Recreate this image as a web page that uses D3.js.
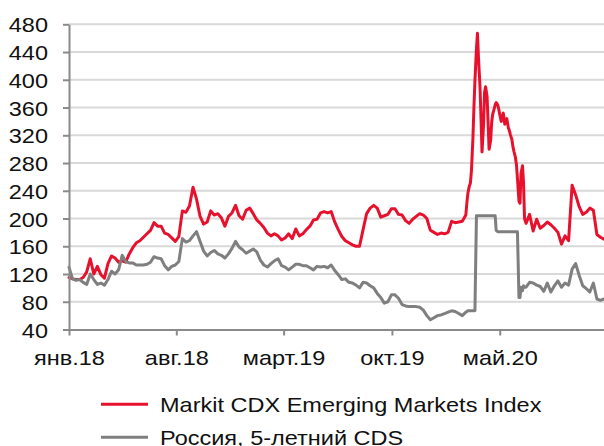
<!DOCTYPE html>
<html>
<head>
<meta charset="utf-8">
<script src="https://cdn.jsdelivr.net/npm/d3@7"></script>
<style>
  html, body { margin: 0; padding: 0; background: #fff; }
  svg { display: block; }
  text { font-family: "Liberation Sans", Arial, sans-serif; fill: #111; }
</style>
</head>
<body>
<svg id="chart" width="604" height="446"></svg>
<script>
// Observation dates (weekly, with denser quotes through the spring 2020 sell-off)
const dates = [
  "2018-01-01","2018-01-08","2018-01-15","2018-01-22","2018-01-29",
  "2018-02-05","2018-02-12","2018-02-19","2018-02-26",
  "2018-03-05","2018-03-12","2018-03-19","2018-03-26",
  "2018-04-02","2018-04-09","2018-04-16","2018-04-23","2018-04-30",
  "2018-05-07","2018-05-14","2018-05-21","2018-05-28",
  "2018-06-04","2018-06-11","2018-06-18","2018-06-25",
  "2018-07-02","2018-07-09","2018-07-16","2018-07-23","2018-07-30",
  "2018-08-06","2018-08-13","2018-08-20","2018-08-27",
  "2018-09-03","2018-09-10","2018-09-17","2018-09-24",
  "2018-10-01","2018-10-08","2018-10-15","2018-10-22","2018-10-29",
  "2018-11-05","2018-11-12","2018-11-19","2018-11-26",
  "2018-12-03","2018-12-10","2018-12-17","2018-12-24","2018-12-31",
  "2019-01-07","2019-01-14","2019-01-21","2019-01-28",
  "2019-02-04","2019-02-11","2019-02-18","2019-02-25",
  "2019-03-04","2019-03-11","2019-03-18","2019-03-25",
  "2019-04-01","2019-04-08","2019-04-15","2019-04-22","2019-04-29",
  "2019-05-06","2019-05-13","2019-05-20","2019-05-27",
  "2019-06-03","2019-06-10","2019-06-17","2019-06-24",
  "2019-07-01","2019-07-08","2019-07-15","2019-07-22","2019-07-29",
  "2019-08-05","2019-08-12","2019-08-19","2019-08-26",
  "2019-09-02","2019-09-09","2019-09-16","2019-09-23","2019-09-30",
  "2019-10-07","2019-10-14","2019-10-21","2019-10-28",
  "2019-11-04","2019-11-11","2019-11-18","2019-11-25",
  "2019-12-02","2019-12-09","2019-12-16","2019-12-23","2019-12-30",
  "2020-01-06","2020-01-13","2020-01-20","2020-01-27",
  "2020-02-03","2020-02-10","2020-02-17",
  "2020-02-24","2020-02-26","2020-02-28",
  "2020-03-02","2020-03-04","2020-03-06","2020-03-09","2020-03-11","2020-03-13","2020-03-16","2020-03-18","2020-03-20","2020-03-23","2020-03-25","2020-03-27","2020-03-30",
  "2020-04-01","2020-04-03","2020-04-06","2020-04-08","2020-04-10","2020-04-13","2020-04-15","2020-04-17","2020-04-20","2020-04-22","2020-04-24","2020-04-27","2020-04-29",
  "2020-05-01","2020-05-04","2020-05-06","2020-05-08","2020-05-11","2020-05-13","2020-05-15","2020-05-18","2020-05-20","2020-05-22","2020-05-25","2020-05-27","2020-05-29",
  "2020-06-01","2020-06-03","2020-06-05","2020-06-08","2020-06-10","2020-06-12","2020-06-15","2020-06-17","2020-06-19","2020-06-22",
  "2020-06-29","2020-07-06","2020-07-13","2020-07-20","2020-07-27",
  "2020-08-03","2020-08-10","2020-08-17","2020-08-24","2020-08-31",
  "2020-09-07","2020-09-14","2020-09-21","2020-09-28",
  "2020-10-05","2020-10-12","2020-10-19","2020-10-26",
  "2020-11-02","2020-11-09","2020-11-16","2020-11-23"
];

// Markit CDX Emerging Markets Index, bp
const cdxEM = [
  115,113,112,112,115,
  123,142,120,131,
  119,114,135,146,
  143,137,139,137,149,
  158,165,168,173,
  178,183,194,189,
  189,179,177,172,167,
  174,211,209,218,
  245,228,203,192,
  195,211,205,207,201,
  189,203,208,219,
  204,199,212,215,207,
  198,193,187,179,
  175,178,175,169,
  172,178,171,185,
  175,178,184,189,198,
  199,208,210,208,
  210,195,184,174,
  168,165,162,160,160,
  184,207,215,219,
  215,202,204,206,214,
  214,206,205,197,
  193,199,203,207,
  205,200,183,180,177,
  179,178,180,196,
  194,195,196,
  205,222,236,
  247,251,268,315,360,398,445,467,432,390,345,296,335,
  382,390,376,338,300,312,338,350,358,364,367,364,358,
  350,340,348,352,336,342,344,331,327,321,314,304,297,
  288,278,258,225,222,265,276,252,200,193,
  206,182,199,186,190,
  195,191,186,180,163,
  175,168,248,234,
  217,206,209,215,
  212,177,173,170
];

// Russia 5-year CDS, bp
const russiaCDS = [
  130,113,111,112,108,
  105,120,112,105,
  107,104,112,124,
  120,126,147,138,136,
  136,133,133,133,
  134,137,145,143,
  142,132,126,131,133,
  138,171,166,168,
  175,181,167,153,
  146,151,154,149,147,
  143,149,157,167,
  159,155,150,153,156,
  152,140,133,130,
  135,139,142,132,
  130,126,130,134,
  134,132,132,129,126,
  131,130,131,129,
  133,125,119,112,
  113,108,107,104,100,
  108,107,103,100,
  92,86,78,80,90,
  90,85,76,74,
  73,73,73,72,
  68,60,54,57,60,
  61,63,65,67,
  66,63,60,
  65,66,67,
  67,67,67,67,67,67,204,204,204,204,204,204,204,
  204,204,204,204,204,204,204,204,204,204,183,181,181,
  181,181,181,181,181,181,181,181,181,181,181,181,181,
  181,181,181,86,86,101,96,103,101,101,
  108,107,104,102,95,
  107,94,103,110,101,
  107,104,127,135,
  118,103,99,94,
  107,84,82,84
];

const seriesNames = ["Markit CDX Emerging Markets Index", "Россия, 5-летний CDS"];
const seriesColors = ["#e8112d", "#7f7f7f"];

const yTicks = [40, 80, 120, 160, 200, 240, 280, 320, 360, 400, 440, 480];
const xTickDates = ["2018-01-01", "2018-08-01", "2019-03-01", "2019-10-01", "2020-05-01"];
const xTickLabels = ["янв.18", "авг.18", "март.19", "окт.19", "май.20"];

const parse = d3.timeParse("%Y-%m-%d");
const svg = d3.select("#chart");

const x = d3.scaleTime()
  .domain([parse("2018-01-01"), parse("2020-11-23")])
  .range([69, 604]);
const y = d3.scaleLinear().domain([40, 480]).range([329.5, 24.3]);

const TEXT_STRETCH = 1.12;
const FONT = 21;

// horizontal gridlines
svg.append("g")
  .selectAll("line")
  .data(yTicks.filter(v => v !== 40))
  .join("line")
  .attr("x1", 69).attr("x2", 604)
  .attr("y1", d => y(d)).attr("y2", d => y(d))
  .attr("stroke", "#d9d9d9")
  .attr("stroke-width", 2);

// series lines
const parsedDates = dates.map(parse);
const line = d3.line()
  .x((d, i) => x(parsedDates[i]))
  .y(d => y(d))
  .curve(d3.curveLinear);

[cdxEM, russiaCDS].forEach((vals, k) => {
  svg.append("path")
    .datum(vals)
    .attr("d", line)
    .attr("fill", "none")
    .attr("stroke", seriesColors[k])
    .attr("stroke-width", 3)
    .attr("stroke-linejoin", "round")
    .attr("stroke-linecap", "round");
});

// y axis
const yAxis = svg.append("g")
  .attr("transform", "translate(69,0)")
  .call(d3.axisLeft(y).tickValues(yTicks).tickSize(6).tickSizeOuter(0));
yAxis.select(".domain").attr("stroke", "#8a8a8a").attr("stroke-width", 2);
yAxis.selectAll(".tick line").attr("stroke", "#8a8a8a").attr("stroke-width", 2);
yAxis.selectAll(".tick text")
  .attr("x", 0).attr("dy", "0.36em")
  .attr("transform", `translate(-21,0) scale(${TEXT_STRETCH},1)`)
  .style("font-size", FONT + "px")
  .style("font-family", "'Liberation Sans', Arial, sans-serif")
  .attr("fill", "#111");

// x axis
const xAxis = svg.append("g")
  .attr("transform", "translate(0,329.5)")
  .call(d3.axisBottom(x)
    .tickValues(xTickDates.map(parse))
    .tickFormat((d, i) => xTickLabels[i])
    .tickSize(6).tickSizeOuter(0));
xAxis.select(".domain").attr("stroke", "#8a8a8a").attr("stroke-width", 2);
xAxis.selectAll(".tick line").attr("stroke", "#8a8a8a").attr("stroke-width", 2);
xAxis.selectAll(".tick text")
  .attr("y", 35.5).attr("dy", 0)
  .attr("transform", `scale(${TEXT_STRETCH},1)`)
  .style("font-size", FONT + "px")
  .style("font-family", "'Liberation Sans', Arial, sans-serif")
  .attr("fill", "#111");

// legend
const legend = svg.append("g");
const legendRows = [404.3, 437.3];
seriesNames.forEach((name, k) => {
  legend.append("line")
    .attr("x1", 101).attr("x2", 148)
    .attr("y1", legendRows[k]).attr("y2", legendRows[k])
    .attr("stroke", seriesColors[k])
    .attr("stroke-width", 3);
  legend.append("text")
    .attr("transform", `translate(160,${legendRows[k] + 7.4}) scale(${TEXT_STRETCH},1)`)
    .style("font-size", FONT + "px")
    .text(name);
});
</script>
</body>
</html>
